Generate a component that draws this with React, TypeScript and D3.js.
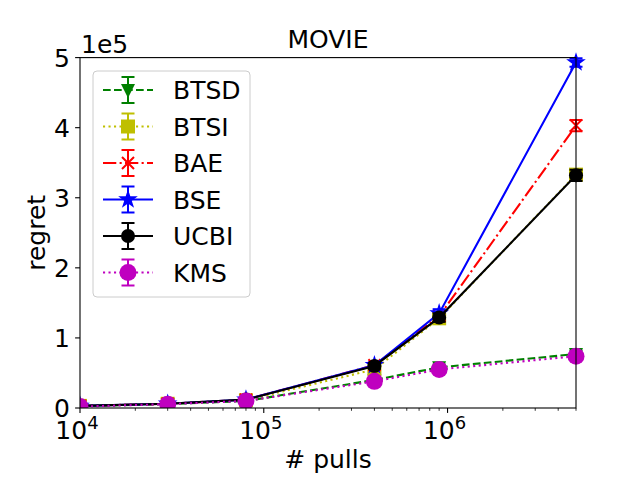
import * as d3 from 'd3';

// pulls (x) and regret in units of 1e5 (y)
const pulls = [1e4, 3e4, 8e4, 4e5, 9e5, 5e6];
const btsd = [0.025, 0.055, 0.1, 0.4, 0.58, 0.77];
const btsi = [0.03, 0.06, 0.11, 0.55, 1.28, 3.33];
const bae = [0.03, 0.06, 0.12, 0.61, 1.31, 4.03];
const bse = [0.03, 0.06, 0.12, 0.61, 1.35, 4.93];
const ucbi = [0.03, 0.06, 0.12, 0.6, 1.29, 3.32];
const kms = [0.02, 0.055, 0.1, 0.38, 0.55, 0.74];
const btsdErr = [0.005, 0.01, 0.02, 0.03, 0.04, 0.05];
const btsiErr = [0.005, 0.01, 0.02, 0.04, 0.06, 0.08];
const baeErr = [0.005, 0.01, 0.02, 0.04, 0.06, 0.08];
const bseErr = [0.005, 0.01, 0.02, 0.04, 0.06, 0.06];
const ucbiErr = [0.005, 0.01, 0.02, 0.04, 0.06, 0.08];
const kmsErr = [0.005, 0.01, 0.02, 0.03, 0.04, 0.05];
const yTicks = [0, 1, 2, 3, 4, 5];
const xMajor = [1e4, 1e5, 1e6];
const xExp = ['4', '5', '6'];

type Marker = 'v' | 's' | 'x' | '*' | 'o' | 'O';
interface Series {
  name: string;
  values: number[];
  errs: number[];
  color: string;
  dash: string;
  marker: Marker;
}

const series: Series[] = [
  { name: 'BTSD', values: btsd, errs: btsdErr, color: '#008000', dash: '7.7,3.3', marker: 'v' },
  { name: 'BTSI', values: btsi, errs: btsiErr, color: '#bfbf00', dash: '2.1,3.4', marker: 's' },
  { name: 'BAE', values: bae, errs: baeErr, color: '#ff0000', dash: '13.3,3.3,2.1,3.3', marker: 'x' },
  { name: 'BSE', values: bse, errs: bseErr, color: '#0000ff', dash: '', marker: '*' },
  { name: 'UCBI', values: ucbi, errs: ucbiErr, color: '#000000', dash: '', marker: 'o' },
  { name: 'KMS', values: kms, errs: kmsErr, color: '#bf00bf', dash: '2.1,3.4', marker: 'O' },
];

const W = 640;
const H = 480;
const left = 80;
const right = 576;
const top = 57.6;
const bottom = 408;
const FONT = '"DejaVu Sans", sans-serif';
const FS = 25;

const x = d3.scaleLog().domain([1e4, 5e6]).range([left, right]);
const y = d3.scaleLinear().domain([0, 5]).range([bottom, top]);

function MarkerShape({ m, cx, cy, color }: { m: Marker; cx: number; cy: number; color: string }) {
  if (m === 'o') return <circle cx={cx} cy={cy} r={7} fill={color} />;
  if (m === 'O') return <circle cx={cx} cy={cy} r={8.5} fill={color} />;
  if (m === 's') return <rect x={cx - 7} y={cy - 7} width={14} height={14} fill={color} />;
  if (m === 'v')
    return (
      <path
        d={`M${cx - 7},${cy - 6}L${cx + 7},${cy - 6}L${cx},${cy + 8}Z`}
        fill={color}
      />
    );
  if (m === 'x')
    return (
      <path
        d={`M${cx - 6},${cy - 6}L${cx + 6},${cy + 6}M${cx - 6},${cy + 6}L${cx + 6},${cy - 6}`}
        stroke={color}
        strokeWidth={2}
      />
    );
  const star = d3.symbol().type(d3.symbolStar).size(120)();
  return <path d={star || ''} transform={`translate(${cx},${cy})`} fill={color} />;
}

function ErrBar({ cx, y0, y1, color }: { cx: number; y0: number; y1: number; color: string }) {
  return (
    <g stroke={color} strokeWidth={2}>
      <line x1={cx} x2={cx} y1={y0} y2={y1} />
      <line x1={cx - 6.5} x2={cx + 6.5} y1={y0} y2={y0} />
      <line x1={cx - 6.5} x2={cx + 6.5} y1={y1} y2={y1} />
    </g>
  );
}

export default function App() {
  const line = d3
    .line<number>()
    .x((_, i) => x(pulls[i]))
    .y((d) => y(d));

  const minor: number[] = [];
  for (let e = 4; e <= 6; e++) {
    for (let k = 2; k <= 9; k++) {
      const v = k * Math.pow(10, e);
      if (v <= 5e6) minor.push(v);
    }
  }

  const legX = 93;
  const legY = 71;
  const rowH = 36.5;

  return (
    <svg width={W} height={H} style={{ position: 'absolute', left: 0, top: 0 }} fontFamily={FONT}>
      <rect width={W} height={H} fill="#fff" />
      <defs>
        <clipPath id="plot">
          <rect x={left} y={top - 10} width={right - left + 10} height={bottom - top + 10} />
        </clipPath>
      </defs>

      {/* series */}
      <g clipPath="url(#plot)">
        {series.map((s) => (
          <g key={s.name}>
            <path
              d={line(s.values) || ''}
              fill="none"
              stroke={s.color}
              strokeWidth={2.1}
              strokeDasharray={s.dash || undefined}
            />
            {s.values.map((v, i) => (
              <ErrBar
                key={'e' + i}
                cx={x(pulls[i])}
                y0={y(v + s.errs[i])}
                y1={y(Math.max(0, v - s.errs[i]))}
                color={s.color}
              />
            ))}
            {s.values.map((v, i) => (
              <MarkerShape key={'m' + i} m={s.marker} cx={x(pulls[i])} cy={y(v)} color={s.color} />
            ))}
          </g>
        ))}
      </g>

      {/* axes frame */}
      <rect x={left} y={top} width={right - left} height={bottom - top} fill="none" stroke="#000" strokeWidth={1.1} />

      {/* y ticks */}
      {yTicks.map((t) => (
        <g key={t}>
          <line x1={left - 4.9} x2={left} y1={y(t)} y2={y(t)} stroke="#000" strokeWidth={1.1} />
          <text x={left - 10} y={y(t)} dy="0.36em" textAnchor="end" fontSize={FS}>
            {t}
          </text>
        </g>
      ))}
      <text x={81} y={53} fontSize={FS}>
        1e5
      </text>

      {/* x ticks */}
      {minor.map((v) => (
        <line key={v} x1={x(v)} x2={x(v)} y1={bottom} y2={bottom + 2.8} stroke="#000" strokeWidth={0.8} />
      ))}
      {xMajor.map((v, i) => (
        <g key={v}>
          <line x1={x(v)} x2={x(v)} y1={bottom} y2={bottom + 4.9} stroke="#000" strokeWidth={1.1} />
          <text x={x(v) - 3} y={439} textAnchor="middle" fontSize={FS}>
            10
            <tspan fontSize={18} dy={-10}>
              {xExp[i]}
            </tspan>
          </text>
        </g>
      ))}

      {/* labels */}
      <text x={(left + right) / 2} y={48} textAnchor="middle" fontSize={FS}>
        MOVIE
      </text>
      <text x={(left + right) / 2} y={468} textAnchor="middle" fontSize={FS}>
        # pulls
      </text>
      <text
        transform={`translate(45,${(top + bottom) / 2}) rotate(-90)`}
        textAnchor="middle"
        fontSize={FS}
      >
        regret
      </text>

      {/* legend */}
      <rect x={legX} y={legY} width={157} height={226} rx={4} fill="#fff" fillOpacity={0.8} stroke="#ccc" />
      {series.map((s, i) => {
        const cy = 90 + i * rowH;
        return (
          <g key={s.name}>
            <line
              x1={103}
              x2={153}
              y1={cy}
              y2={cy}
              stroke={s.color}
              strokeWidth={2.1}
              strokeDasharray={s.dash || undefined}
            />
            <ErrBar cx={128} y0={cy - 13} y1={cy + 13} color={s.color} />
            <MarkerShape m={s.marker} cx={128} cy={cy} color={s.color} />
            <text x={173} y={cy} dy="0.36em" fontSize={FS}>
              {s.name}
            </text>
          </g>
        );
      })}
    </svg>
  );
}
